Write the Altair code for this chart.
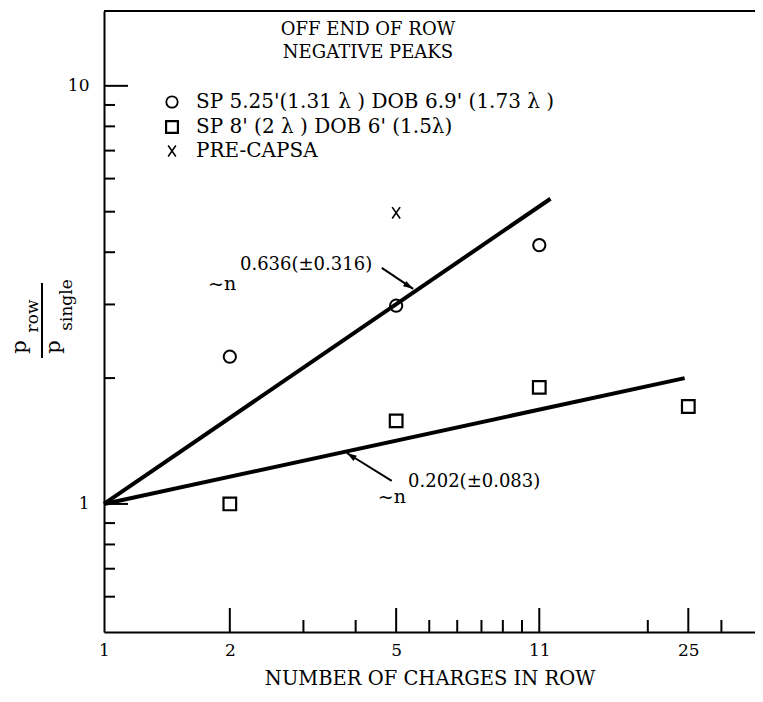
import altair as alt
import pandas as pd

# ---------------- data ----------------
circ_n = [2, 5, 11]
circ_r = [2.25, 2.98, 4.16]

sq_n = [2, 5, 11, 25]
sq_r = [1.0, 1.58, 1.90, 1.71]

pre_n = [5]
pre_r = [4.97]

fit_hi_n = [1, 11.7]
fit_hi_r = [1, 5.37]
fit_lo_n = [1, 24.5]
fit_lo_r = [1, 2.0]

x_labels = [1, 2, 5, 11, 25]
x_major = [2, 5, 11, 25]
x_minor = [3, 4, 6, 7, 8, 9, 10, 20, 30]
y_labels = [1, 10]
y_major = [1, 10]
y_minor = [0.6, 0.7, 0.8, 0.9, 2, 3, 4, 5, 6, 7, 8, 9]

legend_title = ["OFF END OF ROW", "NEGATIVE PEAKS"]
legend_text = ["SP 5.25'(1.31 λ ) DOB 6.9' (1.73 λ )",
               "SP 8' (2 λ ) DOB 6' (1.5λ)",
               "PRE-CAPSA"]

fit_hi_label = ["~n", "0.636(±0.316)"]
fit_lo_label = ["~n", "0.202(±0.083)"]

# ---------------- layout ----------------
W, H = 651, 621
X_DOM = [1, 36.1]
Y_DOM = [0.494, 15.1]
FONT = "DejaVu Serif"
BLACK = "#000000"

CIRCLE = "circle"
SQUARE = "square"
CROSS = "M-0.7,-1L0.7,1M-0.7,1L0.7,-1"
HEAD = "M0,0L0.6,1.9L-0.6,1.9Z"

xs = alt.Scale(type="log", domain=X_DOM, nice=False)
ys = alt.Scale(type="log", domain=Y_DOM, nice=False)
x_axis = alt.Axis(values=x_labels, format="d", grid=False, ticks=False, tickSize=0,
                  labelPadding=10, labelFont=FONT, labelFontSize=17, labelColor=BLACK,
                  domainColor=BLACK, domainWidth=2, titleFont=FONT, titleFontSize=19.5,
                  titleFontWeight="normal", titleColor=BLACK, titlePadding=11,
                  labelFlush=False, labelOverlap=False)
y_axis = alt.Axis(values=y_labels, format="d", grid=False, ticks=False, tickSize=0,
                  labelPadding=15, labelFont=FONT, labelFontSize=17, labelColor=BLACK,
                  domainColor=BLACK, domainWidth=2, labelFlush=False, labelOverlap=False)


def X(field):
    return alt.X(field, type="quantitative", scale=xs, axis=x_axis,
                 title="NUMBER OF CHARGES IN ROW")


def Y(field):
    return alt.Y(field, type="quantitative", scale=ys, axis=y_axis, title=None)


circ_df = pd.DataFrame({"n": circ_n, "r": circ_r})
sq_df = pd.DataFrame({"n": sq_n, "r": sq_r})
pre_df = pd.DataFrame({"n": pre_n, "r": pre_r})
hi_df = pd.DataFrame({"n": fit_hi_n, "r": fit_hi_r})
lo_df = pd.DataFrame({"n": fit_lo_n, "r": fit_lo_r})

layers = []

# inward ticks
layers.append(alt.Chart(pd.DataFrame({"n": x_major})).mark_rule(color=BLACK, strokeWidth=2)
              .encode(x=X("n"), y=alt.value(H), y2=alt.value(H - 24)))
layers.append(alt.Chart(pd.DataFrame({"n": x_minor})).mark_rule(color=BLACK, strokeWidth=2)
              .encode(x=X("n"), y=alt.value(H), y2=alt.value(H - 12)))
layers.append(alt.Chart(pd.DataFrame({"r": y_major})).mark_rule(color=BLACK, strokeWidth=2)
              .encode(y=Y("r"), x=alt.value(0), x2=alt.value(24)))
layers.append(alt.Chart(pd.DataFrame({"r": y_minor})).mark_rule(color=BLACK, strokeWidth=2)
              .encode(y=Y("r"), x=alt.value(0), x2=alt.value(11)))
# top border
layers.append(alt.Chart(pd.DataFrame({"k": [0]})).mark_rule(color=BLACK, strokeWidth=2)
              .encode(x=alt.value(0), x2=alt.value(W), y=alt.value(0)))

# fitted lines
for df in (hi_df, lo_df):
    layers.append(alt.Chart(df).mark_line(color=BLACK, strokeWidth=4, strokeCap="butt")
                  .encode(x=X("n"), y=Y("r")))

# data points
layers.append(alt.Chart(circ_df).mark_point(shape=CIRCLE, size=150, filled=False,
                                            color=BLACK, strokeWidth=2, opacity=1)
              .encode(x=X("n"), y=Y("r")))
layers.append(alt.Chart(sq_df).mark_point(shape=SQUARE, size=160, filled=False,
                                          color=BLACK, strokeWidth=2.2, opacity=1)
              .encode(x=X("n"), y=Y("r")))
layers.append(alt.Chart(pre_df).mark_point(shape=CROSS, size=130, filled=False,
                                           color=BLACK, strokeWidth=1.6, opacity=1)
              .encode(x=X("n"), y=Y("r")))

# annotations (anchor positions in data coordinates)
ann = pd.DataFrame({
    "n": [1.774, 2.115, 4.52, 5.34],
    "r": [3.25, 3.62, 1.0055, 1.095],
    "t": [fit_hi_label[0], fit_hi_label[1], fit_lo_label[0], fit_lo_label[1]],
    "s": [19, 18, 19, 18],
})
layers.append(alt.Chart(ann).mark_text(font=FONT, align="left", baseline="alphabetic",
                                       color=BLACK)
              .encode(x=X("n"), y=Y("r"), text="t:N",
                      size=alt.Size("s:Q", scale=None, legend=None)))

arrows = pd.DataFrame({
    "n": [4.62, 4.88], "r": [3.67, 1.135],
    "n2": [5.49, 3.81], "r2": [3.27, 1.324],
    "a": [121.7, 303.0],
})
layers.append(alt.Chart(arrows).mark_rule(color=BLACK, strokeWidth=2)
              .encode(x=X("n"), y=Y("r"), x2="n2", y2="r2"))
layers.append(alt.Chart(arrows).mark_point(shape=HEAD, size=110, filled=True,
                                           color=BLACK, opacity=1)
              .encode(x=X("n2"), y=Y("r2"),
                      angle=alt.Angle("a:Q", scale=None)))

# legend block (pixel positions)
lt = pd.DataFrame({"t": legend_title, "yy": [19, 42]})
layers.append(alt.Chart(lt).mark_text(font=FONT, fontSize=18, align="center",
                                      baseline="middle", color=BLACK)
              .encode(x=alt.value(264), y=alt.Y("yy:Q", scale=None), text="t:N"))
lg = pd.DataFrame({"t": legend_text, "yy": [91, 116, 140]})
layers.append(alt.Chart(lg).mark_text(font=FONT, fontSize=20, align="left",
                                      baseline="middle", color=BLACK)
              .encode(x=alt.value(92), y=alt.Y("yy:Q", scale=None), text="t:N"))
for shp, yy, sz, sw in ((CIRCLE, 91, 130, 1.8), (SQUARE, 116, 140, 2.2), (CROSS, 140, 120, 1.5)):
    layers.append(alt.Chart(pd.DataFrame({"k": [0]})).mark_point(
        shape=shp, size=sz, filled=False, color=BLACK, strokeWidth=sw, opacity=1)
        .encode(x=alt.value(68), y=alt.value(yy)))

# y-axis title: p_row / p_single
yt = pd.DataFrame({
    "t": ["p", "row", "p", "single"],
    "xx": [-84, -71, -50, -37],
    "yy": [336, 305, 336, 294],
    "s": [21, 17, 21, 17],
})
layers.append(alt.Chart(yt).mark_text(font=FONT, angle=270, align="center",
                                      baseline="middle", color=BLACK)
              .encode(x=alt.X("xx:Q", scale=None), y=alt.Y("yy:Q", scale=None),
                      text="t:N", size=alt.Size("s:Q", scale=None, legend=None)))
layers.append(alt.Chart(pd.DataFrame({"k": [0]})).mark_rule(color=BLACK, strokeWidth=2)
              .encode(x=alt.value(-62), y=alt.value(272), y2=alt.value(347)))

chart = (alt.layer(*layers)
         .properties(width=W, height=H, autosize=alt.AutoSizeParams(type="none"),
                     padding={"left": 96, "top": 3, "right": 0, "bottom": 61})
         .configure_view(stroke=None)
         .configure(background="white"))

chart.save("out.html", embed_options={"renderer": "svg", "actions": False})
